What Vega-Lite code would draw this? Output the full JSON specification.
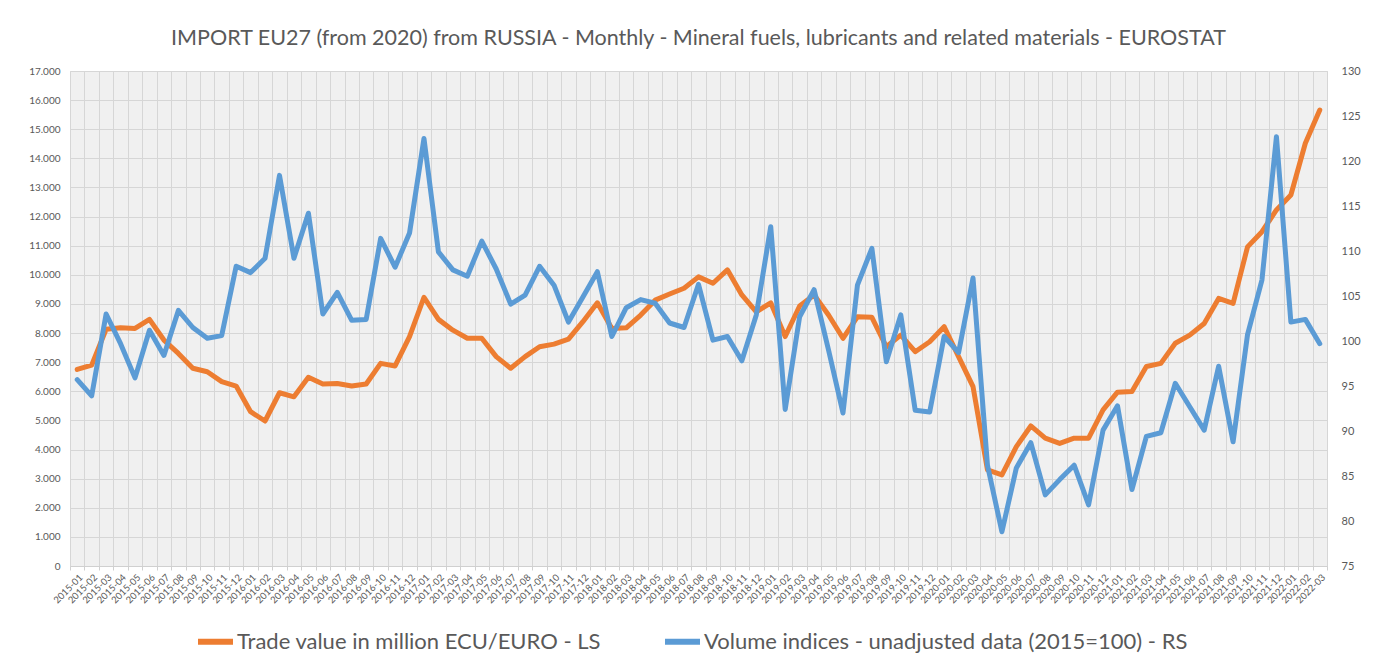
{
  "$schema": "https://vega.github.io/schema/vega-lite/v6.json",
  "autosize": {"type": "none"},
  "width": 1257,
  "height": 495,
  "padding": {"left": 70, "top": 71, "right": 49, "bottom": 99},
  "background": "#ffffff",
  "title": {
    "text": "IMPORT EU27 (from 2020) from RUSSIA - Monthly - Mineral fuels, lubricants and related materials - EUROSTAT",
    "font": "Lato",
    "fontSize": 21.5,
    "fontWeight": "normal",
    "color": "#595959",
    "anchor": "middle",
    "offset": 16
  },
  "config": {
    "font": "Lato",
    "view": {"fill": "#f0f0f0", "stroke": "#d9d9d9"},
    "axis": {"labelColor": "#595959", "gridColor": "#d6d6d6", "domainColor": "#d0d0d0", "tickColor": "#d0d0d0"}
  },
  "data": {
    "values": [
      {"month": "2015-01", "trade": 6750, "volume": 95.7},
      {"month": "2015-02", "trade": 6900, "volume": 93.9},
      {"month": "2015-03", "trade": 8130, "volume": 103.0},
      {"month": "2015-04", "trade": 8180, "volume": 99.7},
      {"month": "2015-05", "trade": 8160, "volume": 95.9},
      {"month": "2015-06", "trade": 8470, "volume": 101.2},
      {"month": "2015-07", "trade": 7760, "volume": 98.4},
      {"month": "2015-08", "trade": 7300, "volume": 103.4},
      {"month": "2015-09", "trade": 6790, "volume": 101.5},
      {"month": "2015-10", "trade": 6670, "volume": 100.3},
      {"month": "2015-11", "trade": 6330, "volume": 100.6},
      {"month": "2015-12", "trade": 6180, "volume": 108.3},
      {"month": "2016-01", "trade": 5300, "volume": 107.6},
      {"month": "2016-02", "trade": 4980, "volume": 109.2},
      {"month": "2016-03", "trade": 5950, "volume": 118.4},
      {"month": "2016-04", "trade": 5810, "volume": 109.2},
      {"month": "2016-05", "trade": 6480, "volume": 114.2},
      {"month": "2016-06", "trade": 6250, "volume": 103.0},
      {"month": "2016-07", "trade": 6270, "volume": 105.4},
      {"month": "2016-08", "trade": 6180, "volume": 102.3},
      {"month": "2016-09", "trade": 6250, "volume": 102.4},
      {"month": "2016-10", "trade": 6960, "volume": 111.4},
      {"month": "2016-11", "trade": 6870, "volume": 108.2},
      {"month": "2016-12", "trade": 7880, "volume": 112.0},
      {"month": "2017-01", "trade": 9230, "volume": 122.5},
      {"month": "2017-02", "trade": 8470, "volume": 109.9},
      {"month": "2017-03", "trade": 8100, "volume": 107.9},
      {"month": "2017-04", "trade": 7820, "volume": 107.2},
      {"month": "2017-05", "trade": 7820, "volume": 111.1},
      {"month": "2017-06", "trade": 7190, "volume": 108.0},
      {"month": "2017-07", "trade": 6790, "volume": 104.1},
      {"month": "2017-08", "trade": 7190, "volume": 105.1},
      {"month": "2017-09", "trade": 7530, "volume": 108.3},
      {"month": "2017-10", "trade": 7620, "volume": 106.2},
      {"month": "2017-11", "trade": 7790, "volume": 102.1},
      {"month": "2017-12", "trade": 8390, "volume": 104.9},
      {"month": "2018-01", "trade": 9040, "volume": 107.7},
      {"month": "2018-02", "trade": 8160, "volume": 100.5},
      {"month": "2018-03", "trade": 8180, "volume": 103.7},
      {"month": "2018-04", "trade": 8620, "volume": 104.6},
      {"month": "2018-05", "trade": 9130, "volume": 104.2},
      {"month": "2018-06", "trade": 9340, "volume": 102.0},
      {"month": "2018-07", "trade": 9540, "volume": 101.5},
      {"month": "2018-08", "trade": 9930, "volume": 106.3},
      {"month": "2018-09", "trade": 9710, "volume": 100.1},
      {"month": "2018-10", "trade": 10170, "volume": 100.5},
      {"month": "2018-11", "trade": 9310, "volume": 97.8},
      {"month": "2018-12", "trade": 8730, "volume": 102.9},
      {"month": "2019-01", "trade": 9040, "volume": 112.7},
      {"month": "2019-02", "trade": 7880, "volume": 92.4},
      {"month": "2019-03", "trade": 8930, "volume": 102.7},
      {"month": "2019-04", "trade": 9310, "volume": 105.7},
      {"month": "2019-05", "trade": 8620, "volume": 99.0},
      {"month": "2019-06", "trade": 7820, "volume": 92.0},
      {"month": "2019-07", "trade": 8560, "volume": 106.2},
      {"month": "2019-08", "trade": 8540, "volume": 110.3},
      {"month": "2019-09", "trade": 7530, "volume": 97.7},
      {"month": "2019-10", "trade": 7930, "volume": 102.9},
      {"month": "2019-11", "trade": 7360, "volume": 92.3},
      {"month": "2019-12", "trade": 7700, "volume": 92.1},
      {"month": "2020-01", "trade": 8220, "volume": 100.5},
      {"month": "2020-02", "trade": 7190, "volume": 98.7},
      {"month": "2020-03", "trade": 6160, "volume": 107.0},
      {"month": "2020-04", "trade": 3300, "volume": 86.2},
      {"month": "2020-05", "trade": 3130, "volume": 78.8},
      {"month": "2020-06", "trade": 4100, "volume": 85.9},
      {"month": "2020-07", "trade": 4810, "volume": 88.7},
      {"month": "2020-08", "trade": 4390, "volume": 82.9},
      {"month": "2020-09", "trade": 4210, "volume": 84.6},
      {"month": "2020-10", "trade": 4390, "volume": 86.2},
      {"month": "2020-11", "trade": 4390, "volume": 81.8},
      {"month": "2020-12", "trade": 5360, "volume": 90.1},
      {"month": "2021-01", "trade": 5970, "volume": 92.8},
      {"month": "2021-02", "trade": 5990, "volume": 83.5},
      {"month": "2021-03", "trade": 6850, "volume": 89.4},
      {"month": "2021-04", "trade": 6960, "volume": 89.8},
      {"month": "2021-05", "trade": 7650, "volume": 95.3},
      {"month": "2021-06", "trade": 7930, "volume": 92.7},
      {"month": "2021-07", "trade": 8330, "volume": 90.1},
      {"month": "2021-08", "trade": 9190, "volume": 97.2},
      {"month": "2021-09", "trade": 9020, "volume": 88.8},
      {"month": "2021-10", "trade": 10960, "volume": 100.7},
      {"month": "2021-11", "trade": 11480, "volume": 106.8},
      {"month": "2021-12", "trade": 12230, "volume": 122.7},
      {"month": "2022-01", "trade": 12740, "volume": 102.1},
      {"month": "2022-02", "trade": 14520, "volume": 102.4},
      {"month": "2022-03", "trade": 15660, "volume": 99.7}
    ]
  },
  "encoding": {
    "x": {
      "field": "month",
      "type": "ordinal",
      "scale": {"type": "band", "paddingInner": 0, "paddingOuter": 0},
      "axis": {
        "title": null,
        "tickBand": "extent",
        "labelAngle": -45,
        "labelFontSize": 9.5,
        "labelOverlap": false,
        "labelPadding": 2,
        "tickSize": 4,
        "grid": true
      }
    }
  },
  "layer": [
    {
      "mark": {"type": "line", "strokeWidth": 5, "strokeJoin": "round", "strokeCap": "round"},
      "encoding": {
        "y": {
          "field": "trade",
          "type": "quantitative",
          "scale": {"domain": [0, 17000], "nice": false, "zero": true},
          "axis": {
            "title": null,
            "values": [0, 1000, 2000, 3000, 4000, 5000, 6000, 7000, 8000, 9000, 10000, 11000, 12000, 13000, 14000, 15000, 16000, 17000],
            "labelExpr": "replace(format(datum.value, ','), ',', '.')",
            "labelFontSize": 10,
            "domain": false,
            "ticks": false,
            "labelPadding": 10,
            "grid": true
          }
        },
        "color": {
          "datum": "Trade value in million ECU/EURO - LS",
          "scale": {
            "domain": ["Trade value in million ECU/EURO - LS", "Volume indices - unadjusted data (2015=100) - RS"],
            "range": ["#ED7D31", "#5B9BD5"]
          },
          "legend": {
            "title": null,
            "orient": "none",
            "direction": "horizontal",
            "legendX": 125,
            "legendY": 550,
            "symbolType": "stroke",
            "symbolSize": 1225,
            "symbolStrokeWidth": 6,
            "labelFontSize": 22,
            "labelColor": "#595959",
            "labelLimit": 700,
            "labelOffset": 1,
            "columnPadding": 52
          }
        }
      }
    },
    {
      "mark": {"type": "line", "strokeWidth": 5, "strokeJoin": "round", "strokeCap": "round"},
      "encoding": {
        "y": {
          "field": "volume",
          "type": "quantitative",
          "scale": {"domain": [75, 130], "nice": false, "zero": false},
          "axis": {
            "title": null,
            "orient": "right",
            "values": [75, 80, 85, 90, 95, 100, 105, 110, 115, 120, 125, 130],
            "labelFontSize": 11,
            "domain": false,
            "ticks": false,
            "labelPadding": 14,
            "grid": false
          }
        },
        "color": {"datum": "Volume indices - unadjusted data (2015=100) - RS"}
      }
    }
  ],
  "resolve": {"scale": {"y": "independent"}}
}
